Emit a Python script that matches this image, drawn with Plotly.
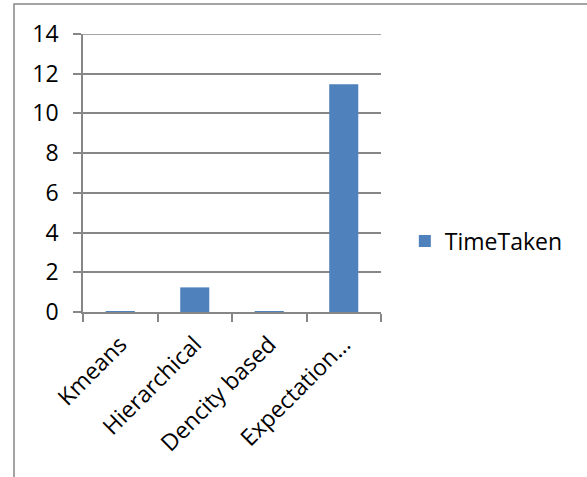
import plotly.graph_objects as go

categories = ["Kmeans", "Hierarchical", "Dencity based", "Expectation…"]
time_taken = [0.03, 1.24, 0.03, 11.47]
series_name = "TimeTaken"
y_ticks = [0, 2, 4, 6, 8, 10, 12, 14]

FONT = "Open Sans"
GRID = "#878787"
FS = 23

fig = go.Figure()
fig.add_trace(go.Bar(
    x=categories, y=time_taken, name=series_name,
    marker=dict(color="#4F81BD", line=dict(width=0)),
    showlegend=True,
))

fig.update_layout(
    width=587, height=477,
    margin=dict(l=83, r=206, t=34, b=165, autoexpand=False),
    paper_bgcolor="white", plot_bgcolor="white",
    font=dict(family=FONT, size=FS, color="#000000"),
    bargap=0.61,
    showlegend=True,
    legend=dict(x=1.08, y=0.255, xanchor="left", yanchor="middle",
                font=dict(family=FONT, size=FS, color="#000000"),
                bgcolor="rgba(0,0,0,0)"),
    xaxis=dict(
        type="category", tickangle=-45, showgrid=False,
        showline=True, linecolor=GRID, linewidth=1.5,
        ticks="outside", tickson="boundaries", ticklen=8, tickcolor=GRID, tickwidth=1.5,
        ticklabelstandoff=8,
        tickfont=dict(family=FONT, size=FS, color="#000000"),
        zeroline=False,
    ),
    yaxis=dict(
        range=[0, 14], tickvals=y_ticks, showgrid=True, gridcolor=GRID, gridwidth=1.5,
        showline=True, linecolor=GRID, linewidth=1.5,
        ticks="outside", ticklen=8, tickcolor=GRID, tickwidth=1.5,
        ticklabelstandoff=10,
        tickfont=dict(family=FONT, size=FS, color="#000000"),
        zeroline=False,
    ),
    shapes=[
        dict(type="rect", xref="paper", yref="paper",
             x0=(14 - 83) / 298, x1=(700 - 83) / 298,
             y0=(312 - 600) / 278, y1=(312 - 4) / 278,
             line=dict(color=GRID, width=1.5), fillcolor="rgba(0,0,0,0)",
             layer="below"),
        dict(type="line", xref="paper", yref="y", x0=0, x1=1,
             y0=y_ticks[-1], y1=y_ticks[-1],
             line=dict(color=GRID, width=1.5), layer="below"),
    ],
)

fig.write_html("out.html")
